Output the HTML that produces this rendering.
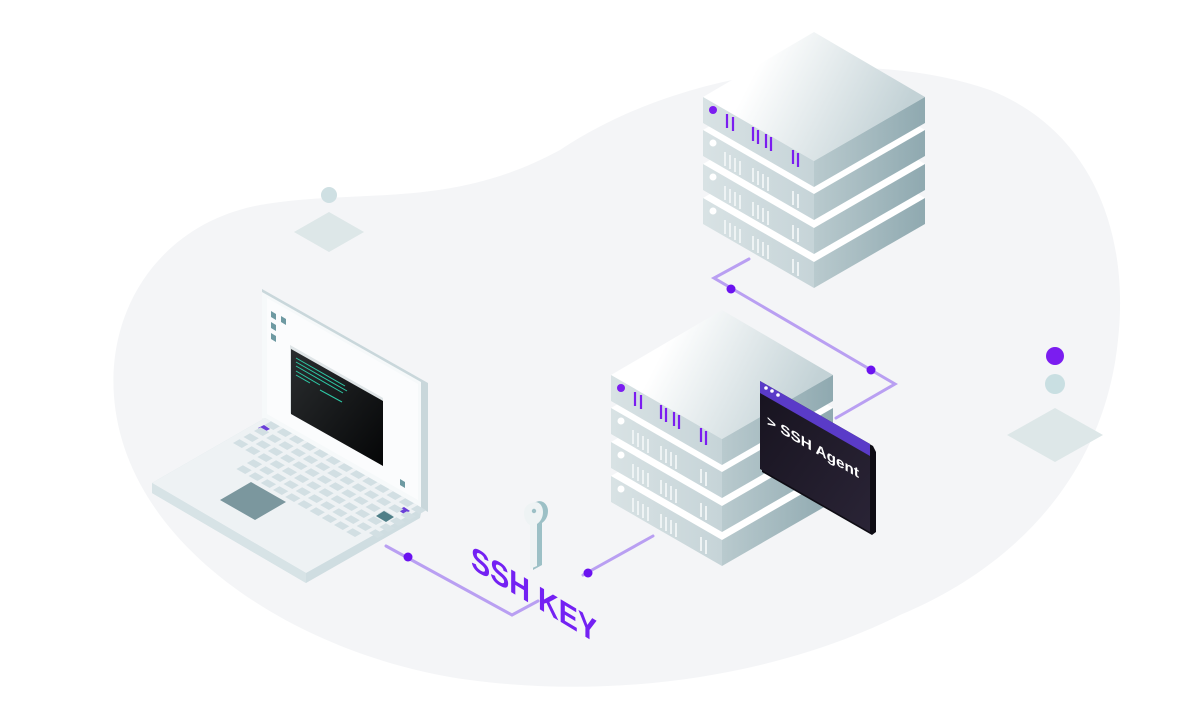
<!DOCTYPE html>
<html><head><meta charset="utf-8"><style>
html,body{margin:0;padding:0;background:#fff;width:1200px;height:720px;overflow:hidden}
svg{display:block}
</style></head><body>
<svg width="1200" height="720" viewBox="0 0 1200 720" xmlns="http://www.w3.org/2000/svg">
<defs>
<linearGradient id="top" x1="0" y1="0" x2="1" y2="0.3">
<stop offset="0.3" stop-color="#ffffff"/><stop offset="1" stop-color="#c3d2d6"/></linearGradient>
<linearGradient id="lf" x1="0" y1="0" x2="1" y2="0">
<stop offset="0" stop-color="#d8e2e4"/><stop offset="1" stop-color="#c6d4d8"/></linearGradient>
<linearGradient id="rf" x1="0" y1="0" x2="1" y2="0">
<stop offset="0" stop-color="#b9cace"/><stop offset="1" stop-color="#8fa9b0"/></linearGradient>
<linearGradient id="term" x1="0" y1="0" x2="1" y2="1">
<stop offset="0" stop-color="#2a2d2f"/><stop offset="1" stop-color="#050607"/></linearGradient>
<linearGradient id="agent" x1="0" y1="0" x2="1" y2="1">
<stop offset="0" stop-color="#17131f"/><stop offset="1" stop-color="#2a2436"/></linearGradient>
<g id="slab">
<polygon points="0,0 111,-65 222,0 111,64" fill="#ffffff"/>
<polygon points="0,0 111,64 111,90 0,26" fill="url(#lf)"/>
<polygon points="111,64 222,0 222,26 111,90" fill="url(#rf)"/>
</g>
<g id="marks" stroke="#eef3f4" stroke-width="2">
<line x1="22" y1="22" x2="22" y2="36"/><line x1="27" y1="25" x2="27" y2="39"/><line x1="32" y1="28" x2="32" y2="42"/><line x1="37" y1="31" x2="37" y2="45"/>
<line x1="50" y1="38" x2="50" y2="52"/><line x1="55" y1="41" x2="55" y2="55"/><line x1="60" y1="44" x2="60" y2="58"/><line x1="65" y1="47" x2="65" y2="61"/>
<line x1="90" y1="61" x2="90" y2="75"/><line x1="95" y1="64" x2="95" y2="78"/>
</g>
<g id="server">
<g transform="translate(0,101)"><use href="#slab"/><circle cx="10" cy="13" r="3.5" fill="#fff"/><use href="#marks"/></g>
<g transform="translate(0,67)"><use href="#slab"/><circle cx="10" cy="13" r="3.5" fill="#fff"/><use href="#marks"/></g>
<g transform="translate(0,33)"><use href="#slab"/><circle cx="10" cy="13" r="3.5" fill="#fff"/><use href="#marks"/></g>
<g>
<polygon points="0,0 111,-65 222,0 111,64" fill="url(#top)"/>
<polygon points="0,0 111,64 111,90 0,26" fill="url(#lf)"/>
<polygon points="111,64 222,0 222,26 111,90" fill="url(#rf)"/>
<circle cx="10" cy="13" r="4" fill="#7b1df0"/>
<g stroke="#7b1df0" stroke-width="2.2">
<line x1="24" y1="17" x2="24" y2="31"/><line x1="30" y1="20" x2="30" y2="34"/>
<line x1="50" y1="30" x2="50" y2="44"/><line x1="55" y1="33" x2="55" y2="47"/>
<line x1="63" y1="37" x2="63" y2="51"/><line x1="68" y1="40" x2="68" y2="54"/>
<line x1="90" y1="53" x2="90" y2="67"/><line x1="95" y1="56" x2="95" y2="70"/>
</g></g>
</g>
</defs>

<!-- background blob -->
<path d="M122,440 C90,330 150,225 260,205 C360,188 450,210 560,150 C680,70 860,45 990,90 C1090,130 1130,230 1118,340 C1105,470 1020,565 900,615 C780,675 620,700 470,680 C320,660 160,570 122,440 Z" fill="#f4f5f7"/>

<!-- decorations -->
<circle cx="329" cy="195" r="8" fill="#cfe0e3"/>
<polygon points="294,232 329,212 364,232 329,252" fill="#dde7e8"/>
<circle cx="1055" cy="356" r="9" fill="#7b1df0"/>
<circle cx="1055" cy="384" r="10" fill="#c9dfe2"/>
<polygon points="1007,435 1055,408 1103,435 1055,462" fill="#dde7e8"/>

<!-- connectors -->
<g stroke="#b99ff2" stroke-width="3" fill="none" stroke-linecap="round">
<polyline points="386,546 512,615 538,601"/>
<polyline points="583,575 653,536"/>
<polyline points="749,259 714,278 895,384 836,418"/>
</g>
<g fill="#6b12f0">
<circle cx="408" cy="557" r="4.5"/><circle cx="588" cy="573" r="4.5"/>
<circle cx="731" cy="289" r="4.5"/><circle cx="871" cy="370" r="4.5"/>
</g>

<use href="#server" transform="translate(703,97)"/>
<use href="#server" transform="translate(611,375)"/>

<!-- SSH Agent window -->
<polygon points="762,383 873,446 876,452 876,532 872,535 762,472" fill="#0e0c14"/>
<polygon points="760,381 870,444 870,532 760,469" fill="url(#agent)"/>
<polygon points="760,381 870,444 870,456 760,393" fill="#5a3bc8"/>
<circle cx="766" cy="388" r="1.8" fill="#fff"/><circle cx="772" cy="391" r="1.8" fill="#fff"/><circle cx="778" cy="395" r="1.8" fill="#fff"/>
<g transform="translate(767,425) skewY(30)"><text x="0" y="0" font-family="Liberation Sans, sans-serif" font-weight="bold" font-size="14" fill="#fff" textLength="92" lengthAdjust="spacingAndGlyphs">&gt; SSH Agent</text></g>

<!-- laptop -->
<polygon points="262,289 428,383 428,512 262,418" fill="#c9d7db"/>
<polygon points="262,292 421,382 421,508 262,418" fill="#f6f9fa"/>
<polygon points="267,298 418,384 418,500 267,414" fill="#fbfcfd"/>
<g fill="#6e9aa2">
<polygon points="271,311 276,314 276,320 271,317"/><polygon points="281,316 286,319 286,325 281,322"/>
<polygon points="271,322 276,325 276,331 271,328"/><polygon points="271,333 276,336 276,342 271,339"/>
<polygon points="400,479 405,482 405,488 400,485"/>
</g>
<polygon points="290,345 383,398 383,466 290,413" fill="#dfe5e7"/>
<polygon points="291,349 383,401 383,466 291,414" fill="url(#term)"/>
<g stroke="#2ec9a6" stroke-width="1">
<line x1="296" y1="358" x2="345" y2="386"/><line x1="296" y1="362" x2="347" y2="391"/>
<line x1="296" y1="366" x2="343" y2="393"/><line x1="296" y1="371" x2="320" y2="385"/>
<line x1="296" y1="375" x2="310" y2="383"/><line x1="320" y1="390" x2="342" y2="402"/>
</g>
<polygon points="152,483 265,418 422,508 420,518 306,583 152,493" fill="#cfdde1"/>
<polygon points="152,483 265,418 422,508 306,573" fill="#eef2f4"/>
<polygon points="152,483 306,573 306,583 152,493" fill="#d7e3e6"/>
<polygon points="258,428 264,425 270,429 264,432" fill="#6a3fd8"/>
<polygon points="398,510 404,507 410,511 404,514" fill="#6a3fd8"/>
<g id="keys" fill="#d2dfe3"></g>
<polygon points="220,500 251,482 286,502 255,520" fill="#7b979e"/>
<polygon points="376,516 384,511 394,517 386,522" fill="#4f7f88"/>

<!-- key -->
<path d="M536,502 c6,-3 12,2 12,9 c0,6 -3,10 -6,12 l0,42 l-9,5 l0,-44 c-4,-2 -6,-7 -6,-12 c0,-6 3,-10 9,-12z" fill="#9cc0c6"/>
<path d="M532,503 c6,-3 11,2 11,9 c0,6 -3,10 -6,12 l0,42 l-7,3 l0,-44 c-4,-2 -6,-7 -6,-12 c0,-5 3,-9 8,-10z" fill="#eef3f4"/>
<circle cx="534" cy="511" r="2.2" fill="#9cc0c6"/>

<!-- SSH KEY -->
<g transform="translate(471,568) skewY(31)"><text x="0" y="0" font-family="Liberation Sans, sans-serif" font-weight="bold" font-size="33" fill="#7421f3" textLength="126" lengthAdjust="spacingAndGlyphs">SSH KEY</text></g>
</svg>
<script>
(function(){
var g=document.getElementById('keys'),s='';
var ox=212,oy=455,ax=12.2,ay=7.0,bx=10.5,by=-6.0;
for(var r=0;r<6;r++){for(var c=0;c<13;c++){
 if(r<2 && c<2) continue;
 if(r==0 && c>11) continue;
 var x=ox+c*ax+r*bx-(r==0?0:0), y=oy+c*ay+r*by+ (r<2?0:0);
 x+= -2*bx; y+= -2*by; x-= 0;
 var px=ox+c*ax+(r)*bx, py=oy+c*ay+(r)*by;
 if(r<2){px+=0;}
 var pts=[[px,py],[px+ax*0.72,py+ay*0.72],[px+ax*0.72+bx*0.62,py+ay*0.72+by*0.62],[px+bx*0.62,py+by*0.62]];
 s+='<polygon points="'+pts.map(function(p){return p[0].toFixed(1)+','+p[1].toFixed(1)}).join(' ')+'"/>';
}}
g.innerHTML=s;
})();
</script>
</body></html>
